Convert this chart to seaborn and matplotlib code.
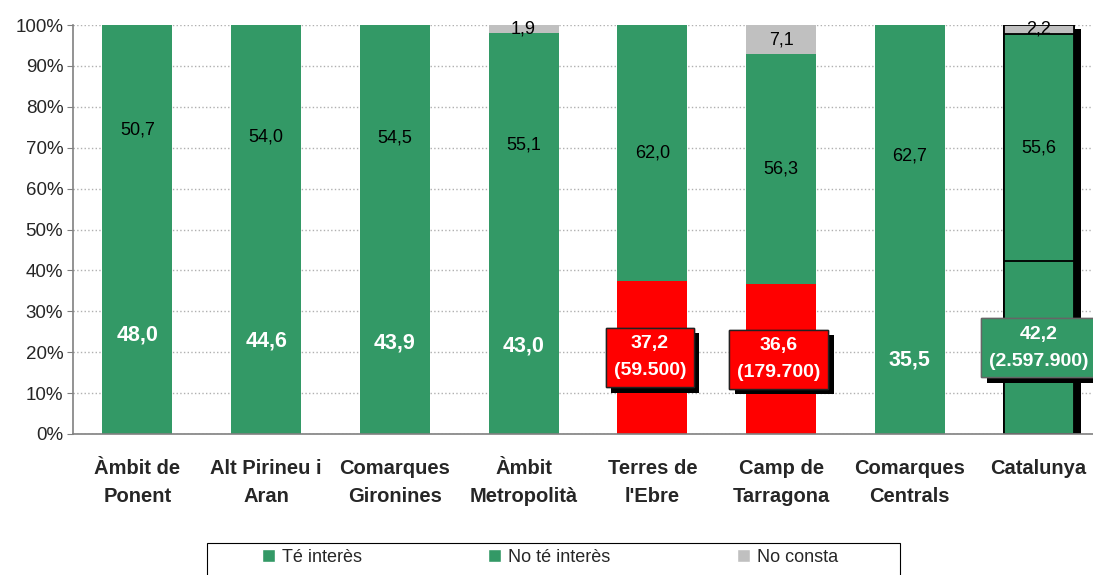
import numpy as np
import pandas as pd
import seaborn as sns
import matplotlib.pyplot as plt
from matplotlib.patches import Patch, Rectangle
from matplotlib import patheffects as pe

# %%
categories = ["Àmbit de\nPonent", "Alt Pirineu i\nAran", "Comarques\nGironines", "Àmbit\nMetropolità",
              "Terres de\nl'Ebre", "Camp de\nTarragona", "Comarques\nCentrals", "Catalunya"]
te_interes = [48.0, 44.6, 43.9, 43.0, 37.2, 36.6, 35.5, 42.2]
no_te_interes = [50.7, 54.0, 54.5, 55.1, 62.0, 56.3, 62.7, 55.6]
no_consta = [0, 0, 0, 1.9, 0, 7.1, 0, 2.2]
persones = [None, None, None, None, "59.500", "179.700", None, "2.597.900"]

green = "#339966"
red = "#ff0000"
grey = "#c0c0c0"
bottom_colors = [red if p is not None and i < 7 else green for i, p in enumerate(persones)]

# %%
df = pd.DataFrame({"cat": categories, "te": te_interes, "no": no_te_interes, "nc": no_consta})
total = df.te + df.no + df.nc
df["bottom"] = df.te / total * 100
df["mid"] = (df.te + df.no) / total * 100
df["top"] = 100.0

sns.set_style("white")
plt.rcParams["font.family"] = ["Liberation Sans", "DejaVu Sans"]

fig = plt.figure(figsize = (10.93, 5.75), dpi = 100)
ax = fig.add_axes([73 / 1093, 141 / 575, 1030 / 1093, 409 / 575])

w = 0.544
n0 = len(ax.patches)
sns.barplot(data = df, x = "cat", y = "top", color = grey, width = w, ax = ax, saturation = 1, linewidth = 0)
top_bars = ax.patches[n0:]
n1 = len(ax.patches)
sns.barplot(data = df, x = "cat", y = "mid", color = green, width = w, ax = ax, saturation = 1, linewidth = 0)
mid_bars = ax.patches[n1:]
n2 = len(ax.patches)
sns.barplot(data = df, x = "cat", y = "bottom", hue = "cat", palette = bottom_colors, width = w,
            ax = ax, saturation = 1, legend = False, linewidth = 0)
bot_bars = ax.patches[n2:]

# Catalunya bar: outlined with a drop shadow
for bars in (top_bars, mid_bars, bot_bars):
    bars[7].set_edgecolor("black")
    bars[7].set_linewidth(1.3)
top_bars[7].set_path_effects([pe.withSimplePatchShadow(offset = (5, -3), shadow_rgbFace = "black", alpha = 1),
                              pe.Normal()])

# labels
for i, row in df.iterrows():
    ax.text(i, (row.bottom + row.mid) / 2, f"{row.no:.1f}".replace(".", ","),
            ha = "center", va = "center", fontsize = 13, color = "black")
    if row.nc > 0:
        ax.text(i, (row.mid + 100) / 2, f"{row.nc:.1f}".replace(".", ","),
                ha = "center", va = "center", fontsize = 13, color = "black")
    val = f"{row.te:.1f}".replace(".", ",")
    if persones[i] is None:
        ax.text(i, row.bottom / 2, val, ha = "center", va = "center", fontsize = 15.5,
                fontweight = "bold", color = "white")
    else:
        face = red if i < 7 else green
        edge = "#222222" if i < 7 else "#666666"
        xpos = i - 0.02 if i < 7 else i
        t = ax.text(xpos, row.bottom / 2, f"{val}\n({persones[i]})", ha = "center", va = "center",
                    fontsize = 14, fontweight = "bold", color = "white", linespacing = 1.75,
                    bbox = dict(boxstyle = "square,pad=0.4", facecolor = face, edgecolor = edge, linewidth = 1))
        t.get_bbox_patch().set_path_effects([pe.withSimplePatchShadow(offset = (4, -4), shadow_rgbFace = "black", alpha = 1),
                                             pe.Normal()])

# axes styling
ax.set_xlim(-0.5, 7.5)
ax.set_ylim(0, 100)
ax.set_yticks(np.arange(0, 101, 10))
ax.set_yticklabels([f"{v}%" for v in range(0, 101, 10)], fontsize = 13.5)
ax.yaxis.grid(True, linestyle = ":", color = "#b0b0b0", linewidth = 1)
ax.set_axisbelow(True)
ax.set_xticks(range(len(categories)))
ax.set_xticklabels(categories, fontsize = 14.5, fontweight = "bold", linespacing = 1.6)
ax.set_xticks(np.arange(-0.5, 7, 1), minor = True)
ax.tick_params(axis = "x", which = "major", length = 0, pad = 18)
ax.tick_params(axis = "x", which = "minor", length = 6, color = "#808080", direction = "out")
ax.tick_params(axis = "y", length = 4, color = "#808080", direction = "out", pad = 3, left = True)
ax.set_xlabel("")
ax.set_ylabel("")
for s in ("top", "right"):
    ax.spines[s].set_visible(False)
for s in ("left", "bottom"):
    ax.spines[s].set_color("#808080")
    ax.spines[s].set_linewidth(1.2)

# legend: frame drawn separately, entries centred inside
fig.patches.append(Rectangle((207 / 1093, -0.02), 693 / 1093, 1 - 543 / 575 + 0.02, transform = fig.transFigure,
                             fill = False, edgecolor = "black", linewidth = 0.8))
handles = [Patch(facecolor = green, label = "Té interès"),
           Patch(facecolor = green, label = "No té interès"),
           Patch(facecolor = grey, label = "No consta")]
fig.legend(handles = handles, ncol = 3, loc = "center", bbox_to_anchor = (550 / 1093, 1 - 557 / 575),
           frameon = False, fontsize = 13, handlelength = 0.7, handleheight = 0.7, handletextpad = 0.4,
           columnspacing = 7.0, borderaxespad = 0, borderpad = 0)

plt.savefig("out.png", dpi = 100)
